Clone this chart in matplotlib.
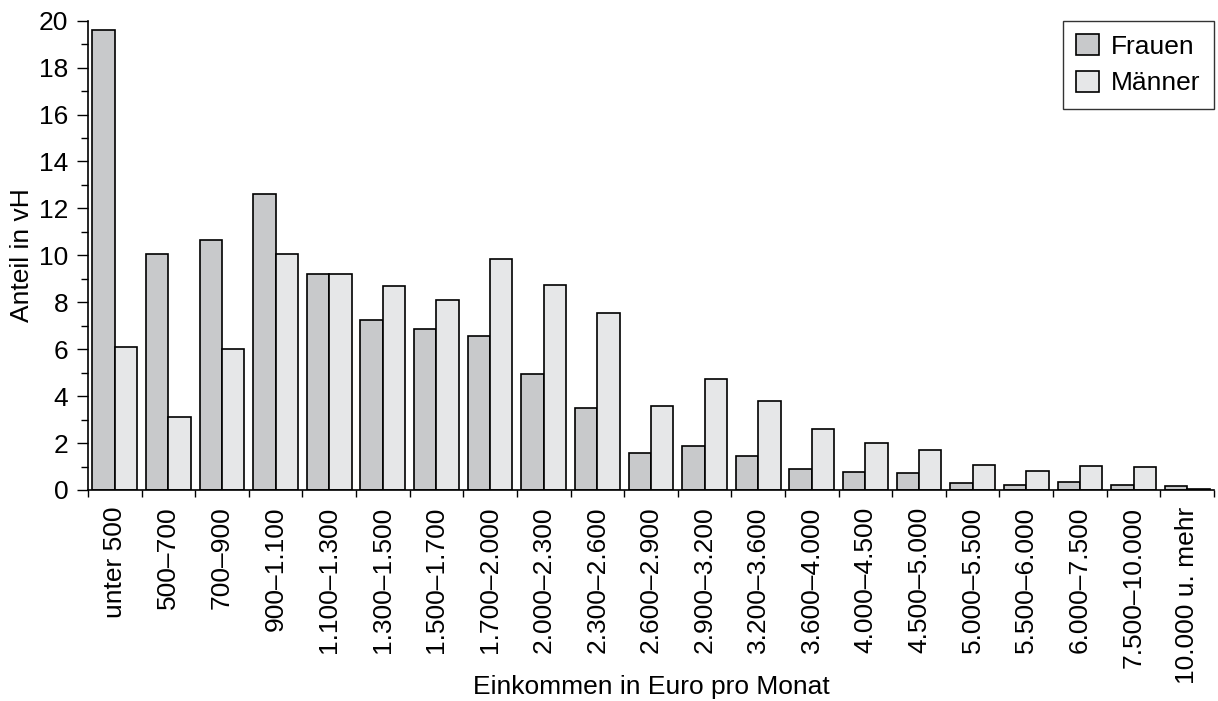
import matplotlib.pyplot as plt
import numpy as np

plt.rcParams['font.family'] = ['Liberation Sans', 'DejaVu Sans']

#%% Datos
kategorien = ['unter 500', '500\u2013700', '700\u2013900', '900\u20131.100',
              '1.100\u20131.300', '1.300\u20131.500', '1.500\u20131.700',
              '1.700\u20132.000', '2.000\u20132.300', '2.300\u20132.600',
              '2.600\u20132.900', '2.900\u20133.200', '3.200\u20133.600',
              '3.600\u20134.000', '4.000\u20134.500', '4.500\u20135.000',
              '5.000\u20135.500', '5.500\u20136.000', '6.000\u20137.500',
              '7.500\u201310.000', '10.000 u. mehr']

frauen = [19.6, 10.05, 10.65, 12.6, 9.2, 7.25, 6.85, 6.55, 4.95, 3.5,
          1.56, 1.88, 1.43, 0.88, 0.77, 0.71, 0.28, 0.2, 0.35, 0.23, 0.18]
maenner = [6.1, 3.1, 6.0, 10.05, 9.22, 8.7, 8.08, 9.85, 8.75, 7.55,
           3.57, 4.73, 3.78, 2.61, 1.99, 1.72, 1.07, 0.82, 1.02, 0.96, 0.04]

fs = 19  # tamaño de letra

#%% Grafico
fig = plt.figure(figsize=(12.18, 7.01), dpi=100)
ax = fig.add_axes([0.0722, 0.301, 0.9245, 0.6695])

x = np.arange(len(kategorien))
w = 0.417
ax.bar(x - w / 2, frauen, width=w, color='#c8c9cb', edgecolor='black',
       linewidth=1.2, label='Frauen')
ax.bar(x + w / 2, maenner, width=w, color='#e6e7e8', edgecolor='black',
       linewidth=1.2, label='Männer')

ax.set_xlim(-0.5, len(kategorien) - 0.5)
ax.set_ylim(0, 20)

ax.spines['top'].set_visible(False)
ax.spines['right'].set_visible(False)
ax.spines['left'].set_linewidth(1.2)
ax.spines['bottom'].set_linewidth(1.2)

# Eje x: etiquetas en el centro, ticks entre grupos
ax.set_xticks(x)
ax.set_xticklabels(kategorien, rotation=90, fontsize=fs)
ax.set_xticks(np.arange(-0.5, len(kategorien)), minor=True)
ax.tick_params(axis='x', which='major', length=0, pad=12)
ax.tick_params(axis='x', which='minor', length=5, width=1.0, direction='out')

# Eje y
ax.set_yticks(np.arange(0, 21, 2))
ax.set_yticks(np.arange(1, 20, 2), minor=True)
ax.tick_params(axis='y', which='major', length=8, width=1.0, labelsize=fs, pad=6)
ax.tick_params(axis='y', which='minor', length=5, width=1.0)

ax.set_ylabel('Anteil in vH', fontsize=fs, va='center')
ax.yaxis.set_label_coords(-0.0586, 0.5)
ax.set_xlabel('Einkommen in Euro pro Monat', fontsize=fs)
ax.xaxis.set_label_coords(0.5, -0.395)

leg = ax.legend(loc='upper right', bbox_to_anchor=(1.0, 1.0), fontsize=fs,
                frameon=True, fancybox=False, edgecolor='black',
                handlelength=0.87, handleheight=0.87, handletextpad=0.45,
                borderpad=0.5, labelspacing=0.45, borderaxespad=0.0)
leg.get_frame().set_linewidth(1.0)

plt.savefig('out.png', dpi=100)
